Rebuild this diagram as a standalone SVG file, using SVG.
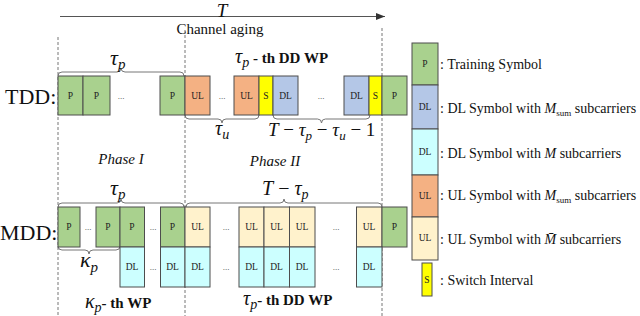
<svg xmlns="http://www.w3.org/2000/svg" width="640" height="316" viewBox="0 0 640 316" font-family="'Liberation Serif', 'DejaVu Serif', serif">
<defs>
<marker id="arr" markerUnits="userSpaceOnUse" markerWidth="9" markerHeight="7" refX="9" refY="3.5" orient="auto"><path d="M0,0 L9,3.5 L0,7 z" fill="#333"/></marker>
<style>
text{font-family:'Liberation Serif','DejaVu Serif',serif;fill:#111}
.b{stroke:#4d4d4d;stroke-width:1}
.P{fill:#a9d18e}.ULo{fill:#f4b183}.DLb{fill:#b4c7e7}.S{fill:#ffff00}.DLc{fill:#ccffff}.ULc{fill:#fff2cc}
.lb{font-size:9.5px;text-anchor:middle;fill:#222}
.dots{font-size:9px;text-anchor:middle;fill:#444}
.dash{stroke:#777;stroke-width:1;stroke-dasharray:3,2;fill:none}
.br{stroke:#777;stroke-width:1;fill:none}
.it{font-style:italic}
.bd{font-weight:bold}
.leg{font-size:14px}
.row{font-size:22px}
</style>
</defs>
<rect width="640" height="316" fill="#fff"/>
<g id="connectors">
<line x1="60" y1="16.5" x2="385" y2="16.5" stroke="#555" stroke-width="1.2" marker-end="url(#arr)"/>
<line class="dash" x1="58" y1="37" x2="58" y2="316"/>
<line class="dash" x1="185" y1="30" x2="185" y2="316"/>
<line class="dash" x1="382" y1="28" x2="382" y2="316"/>
<path class="br" d="M58,76 Q58,72 62,72 H117 Q121,72 121,68 Q121,72 125,72 H180 Q184,72 184,76"/>
<path class="br" d="M185,115 Q185,119 189,119 H218 Q222,119 222,123 Q222,119 226,119 H255 Q259,119 259,115"/>
<path class="br" d="M273,115 Q273,119 277,119 H317.5 Q321.5,119 321.5,123 Q321.5,119 325.5,119 H366 Q370,119 370,115"/>
<path class="br" d="M58,207 Q58,203 62,203 H117 Q121,203 121,199 Q121,203 125,203 H180 Q184,203 184,207"/>
<path class="br" d="M186,207 Q186,203 190,203 H280 Q284,203 284,199 Q284,203 288,203 H378 Q382,203 382,207"/>
<path class="br" d="M58,246 Q58,250 62,250 H85 Q89,250 89,254 Q89,250 93,250 H116 Q120,250 120,246"/>
</g>
<g id="labels">
<text class="it" x="222" y="17" font-size="19" text-anchor="middle">T</text>
<text x="220" y="34" font-size="15" text-anchor="middle">Channel aging</text>
<text class="row" x="5" y="104">TDD:</text>
<text class="row" x="0" y="240">MDD:</text>
<text x="110" y="65" font-size="22" class="it">τ<tspan font-size="15" dy="4">p</tspan></text>
<text x="235" y="63" font-size="20" class="it">τ<tspan font-size="14" dy="4">p</tspan><tspan class="bd" font-size="15" font-style="normal" dy="-4"> - th DD WP</tspan></text>
<text x="215" y="135" font-size="20" class="it">τ<tspan font-size="14" dy="4">u</tspan></text>
<text x="268" y="136" font-size="19"><tspan class="it">T</tspan> − <tspan class="it">τ</tspan><tspan class="it" font-size="13" dy="4">p</tspan><tspan dy="-4"> − </tspan><tspan class="it">τ</tspan><tspan class="it" font-size="13" dy="4">u</tspan><tspan dy="-4"> − 1</tspan></text>
<text class="it" x="121" y="164" font-size="15" text-anchor="middle">Phase I</text>
<text class="it" x="275" y="166" font-size="15" text-anchor="middle">Phase II</text>
<text x="110" y="195" font-size="22" class="it">τ<tspan font-size="15" dy="4">p</tspan></text>
<text x="262" y="195" font-size="20"><tspan class="it">T</tspan> − <tspan class="it">τ</tspan><tspan class="it" font-size="14" dy="4">p</tspan></text>
<text x="80" y="267" font-size="22" class="it">κ<tspan font-size="15" dy="5">p</tspan></text>
<text x="85" y="308" font-size="20" class="it">κ<tspan font-size="14" dy="4">p</tspan><tspan class="bd" font-size="15" font-style="normal" dy="-4">- th WP</tspan></text>
<text x="243" y="305" font-size="20" class="it">τ<tspan font-size="14" dy="4">p</tspan><tspan class="bd" font-size="15" font-style="normal" dy="-4">- th DD WP</tspan></text>
</g>
<g id="tdd">
<g id="tdd-p1"><rect class="b P" x="58" y="76" width="25" height="39"/><text class="lb" x="70.5" y="99">P</text></g>
<g id="tdd-p2"><rect class="b P" x="83" y="76" width="27" height="39"/><text class="lb" x="96.5" y="99">P</text></g>
<text class="dots" x="121" y="99">...</text>
<g id="tdd-p3"><rect class="b P" x="160" y="76" width="25" height="39"/><text class="lb" x="172.5" y="99">P</text></g>
<g id="tdd-ul1"><rect class="b ULo" x="185" y="76" width="25" height="39"/><text class="lb" x="197.5" y="99">UL</text></g>
<text class="dots" x="222" y="99">...</text>
<g id="tdd-ul2"><rect class="b ULo" x="234" y="76" width="25" height="39"/><text class="lb" x="246.5" y="99">UL</text></g>
<g id="tdd-s1"><rect class="b S" x="259" y="76" width="14" height="39"/><text class="lb" x="266" y="99">S</text></g>
<g id="tdd-dl1"><rect class="b DLb" x="273" y="76" width="25" height="39"/><text class="lb" x="285.5" y="99">DL</text></g>
<text class="dots" x="321" y="99">...</text>
<g id="tdd-dl2"><rect class="b DLb" x="344" y="76" width="25" height="39"/><text class="lb" x="356.5" y="99">DL</text></g>
<g id="tdd-s2"><rect class="b S" x="369" y="76" width="13" height="39"/><text class="lb" x="375.5" y="99">S</text></g>
<g id="tdd-p4"><rect class="b P" x="382" y="76" width="25" height="39"/><text class="lb" x="394.5" y="99">P</text></g>
</g>
<g id="mdd">
<g id="mdd-p1"><rect class="b P" x="58" y="207" width="22" height="40"/><text class="lb" x="69" y="230">P</text></g>
<text class="dots" x="88" y="230">...</text>
<g id="mdd-p2"><rect class="b P" x="96" y="207" width="24" height="40"/><text class="lb" x="108" y="230">P</text></g>
<g id="mdd-p3"><rect class="b P" x="120" y="207" width="24.5" height="40"/><text class="lb" x="132" y="230">P</text></g>
<text class="dots" x="153" y="230">...</text>
<g id="mdd-p4"><rect class="b P" x="160.5" y="207" width="24.5" height="40"/><text class="lb" x="172.5" y="230">P</text></g>
<g id="mdd-ul1"><rect class="b ULc" x="185" y="207" width="25" height="40"/><text class="lb" x="197.5" y="230">UL</text></g>
<text class="dots" x="226" y="230">...</text>
<g id="mdd-ul2"><rect class="b ULc" x="239" y="207" width="25" height="40"/><text class="lb" x="251.5" y="230">UL</text></g>
<g id="mdd-ul3"><rect class="b ULc" x="264" y="207" width="25.5" height="40"/><text class="lb" x="276.5" y="230">UL</text></g>
<g id="mdd-ul4"><rect class="b ULc" x="289.5" y="207" width="25.5" height="40"/><text class="lb" x="302" y="230">UL</text></g>
<text class="dots" x="336" y="230">...</text>
<g id="mdd-ul5"><rect class="b ULc" x="356.5" y="207" width="25.5" height="40"/><text class="lb" x="369" y="230">UL</text></g>
<g id="mdd-p5"><rect class="b P" x="382" y="207" width="25" height="40"/><text class="lb" x="394.5" y="230">P</text></g>
<g id="mdd-dl1"><rect class="b DLc" x="120" y="247" width="24.5" height="40"/><text class="lb" x="132" y="270">DL</text></g>
<text class="dots" x="153" y="270">...</text>
<g id="mdd-dl2"><rect class="b DLc" x="160.5" y="247" width="24.5" height="40"/><text class="lb" x="172.5" y="270">DL</text></g>
<g id="mdd-dl3"><rect class="b DLc" x="185" y="247" width="25" height="40"/><text class="lb" x="197.5" y="270">DL</text></g>
<text class="dots" x="226" y="270">...</text>
<g id="mdd-dl4"><rect class="b DLc" x="239" y="247" width="25" height="40"/><text class="lb" x="251.5" y="270">DL</text></g>
<g id="mdd-dl5"><rect class="b DLc" x="264" y="247" width="25.5" height="40"/><text class="lb" x="276.5" y="270">DL</text></g>
<g id="mdd-dl6"><rect class="b DLc" x="289.5" y="247" width="25.5" height="40"/><text class="lb" x="302" y="270">DL</text></g>
<text class="dots" x="336" y="270">...</text>
<g id="mdd-dl7"><rect class="b DLc" x="356.5" y="247" width="25.5" height="40"/><text class="lb" x="369" y="270">DL</text></g>
</g>
<g id="legend">
<g id="leg-p"><rect class="b P" x="412" y="43" width="26" height="42"/><text class="lb" x="425" y="67">P</text><text class="leg" x="440" y="69">: Training Symbol</text></g>
<g id="leg-dlb"><rect class="b DLb" x="412" y="85" width="26" height="44"/><text class="lb" x="425" y="110">DL</text><text class="leg" x="440" y="113">: DL Symbol with <tspan class="it">M</tspan><tspan font-size="9" dy="3">sum</tspan><tspan dy="-3"> subcarriers</tspan></text></g>
<g id="leg-dlc"><rect class="b DLc" x="412" y="129" width="26" height="46"/><text class="lb" x="425" y="155">DL</text><text class="leg" x="440" y="158">: DL Symbol with <tspan class="it">M</tspan> subcarriers</text></g>
<g id="leg-ulo"><rect class="b ULo" x="412" y="175" width="26" height="42"/><text class="lb" x="425" y="199">UL</text><text class="leg" x="440" y="200">: UL Symbol with <tspan class="it">M</tspan><tspan font-size="9" dy="3">sum</tspan><tspan dy="-3"> subcarriers</tspan></text></g>
<g id="leg-ulc"><rect class="b ULc" x="412" y="217" width="26" height="43"/><text class="lb" x="425" y="241">UL</text><text class="leg" x="440" y="244">: UL Symbol with <tspan class="it">M̄</tspan> subcarriers</text></g>
<g id="leg-s"><rect class="b S" x="422" y="263" width="10" height="33"/><text class="lb" x="427" y="283" font-size="8.5">S</text><text class="leg" x="440" y="285">: Switch Interval</text></g>
</g>
</svg>
